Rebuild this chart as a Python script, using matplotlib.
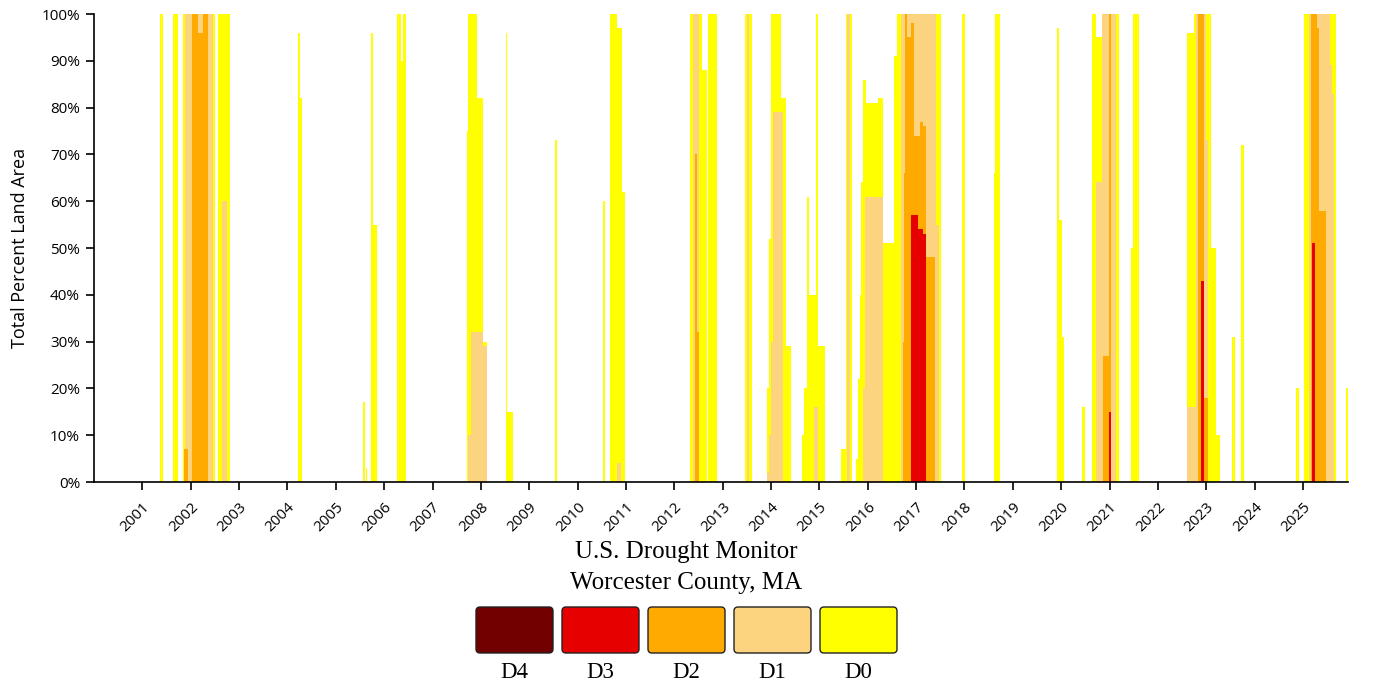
import matplotlib
matplotlib.use("Agg")
import matplotlib.pyplot as plt
from matplotlib.patches import FancyBboxPatch

# week the value starts (decimal year), cumulative percent area for D0..D4
# one row per episode; every episode closes with a 0 row
dates = [
    2000.00,
    2001.36, 2001.43,
    2001.64, 2001.74, 2001.83, 2001.86, 2001.89, 2001.95, 2002.03, 2002.16, 2002.26, 2002.36, 2002.47, 2002.50, 2002.57, 2002.65, 2002.76, 2002.82,
    2004.22, 2004.26, 2004.30,
    2005.56, 2005.60, 2005.63, 2005.65, 2005.73, 2005.77, 2005.85,
    2006.27, 2006.35, 2006.39, 2006.45,
    2007.71, 2007.74, 2007.80, 2007.92, 2008.04, 2008.12,
    2008.52, 2008.55, 2008.66,
    2009.53, 2009.57,
    2010.52, 2010.56, 2010.67, 2010.81, 2010.89, 2010.91, 2010.98,
    2012.32, 2012.38, 2012.42, 2012.46, 2012.50, 2012.52, 2012.58, 2012.67, 2012.70, 2012.88,
    2013.47, 2013.50, 2013.55, 2013.60,
    2013.91, 2013.95, 2013.99, 2014.03, 2014.20, 2014.24, 2014.30, 2014.42,
    2014.65, 2014.69, 2014.75, 2014.79, 2014.88, 2014.93, 2014.98, 2015.11,
    2015.45, 2015.54, 2015.58, 2015.64, 2015.68,
    2015.76, 2015.79, 2015.83, 2015.87, 2015.91, 2015.95, 2015.97, 2016.22, 2016.32, 2016.55, 2016.61, 2016.69, 2016.72, 2016.74, 2016.78, 2016.82, 2016.90, 2016.96, 2017.03, 2017.09, 2017.15, 2017.21, 2017.40, 2017.42, 2017.48, 2017.52,
    2017.94, 2018.02,
    2018.61, 2018.64, 2018.74,
    2019.92, 2019.95, 2020.02, 2020.06,
    2020.43, 2020.49,
    2020.64, 2020.72, 2020.85, 2020.87, 2020.98, 2021.03, 2021.14, 2021.20,
    2021.44, 2021.48, 2021.61,
    2022.60, 2022.75, 2022.79, 2022.83, 2022.89, 2022.95, 2022.99, 2023.03, 2023.10, 2023.20, 2023.28,
    2023.53, 2023.60, 2023.72, 2023.78,
    2024.85, 2024.92,
    2025.02, 2025.12, 2025.16, 2025.18, 2025.25, 2025.29, 2025.33, 2025.47, 2025.56, 2025.60, 2025.64, 2025.68, 2025.89, 2025.93,
]
d0 = [
    0,
    100, 0,
    100, 0, 100, 100, 100, 100, 100, 100, 100, 100, 100, 0, 100, 100, 100, 0,
    96, 82, 0,
    17, 0, 3, 0, 96, 55, 0,
    100, 90, 100, 0,
    75, 100, 100, 82, 30, 0,
    96, 15, 0,
    73, 0,
    60, 0, 100, 97, 97, 62, 0,
    100, 100, 100, 100, 100, 100, 88, 0, 100, 0,
    100, 100, 100, 0,
    20, 52, 100, 100, 82, 82, 29, 0,
    10, 20, 61, 40, 40, 100, 29, 0,
    7, 100, 100, 100, 0,
    5, 22, 40, 64, 86, 86, 81, 82, 51, 91, 100, 100, 100, 100, 100, 100, 100, 100, 100, 100, 100, 100, 100, 100, 100, 0,
    100, 0,
    66, 100, 0,
    97, 56, 31, 0,
    16, 0,
    100, 95, 100, 100, 100, 100, 100, 0,
    50, 100, 0,
    96, 100, 100, 100, 100, 100, 100, 100, 50, 10, 0,
    31, 0, 72, 0,
    20, 0,
    100, 100, 100, 100, 100, 100, 100, 100, 100, 100, 100, 0, 20, 0,
]
d1 = [
    0,
    0, 0,
    0, 0, 0, 7, 100, 100, 100, 100, 100, 100, 0, 0, 0, 60, 0, 0,
    0, 0, 0,
    0, 0, 0, 0, 0, 0, 0,
    0, 0, 0, 0,
    0, 10, 32, 32, 29, 0,
    0, 0, 0,
    0, 0,
    0, 0, 0, 4, 0, 0, 0,
    0, 100, 100, 100, 100, 0, 0, 0, 0, 0,
    0, 100, 0, 0,
    2, 10, 30, 79, 79, 0, 0, 0,
    0, 0, 0, 0, 16, 16, 0, 0,
    0, 0, 100, 0, 0,
    0, 0, 0, 0, 20, 61, 61, 61, 0, 0, 0, 100, 100, 100, 100, 100, 100, 100, 100, 100, 100, 100, 100, 55, 0, 0,
    0, 0,
    0, 0, 0,
    0, 0, 0, 0,
    0, 0,
    0, 64, 100, 100, 100, 100, 0, 0,
    0, 0, 0,
    16, 16, 100, 100, 100, 100, 73, 0, 0, 0, 0,
    0, 0, 0, 0,
    0, 0,
    0, 100, 100, 100, 100, 100, 100, 100, 89, 83, 0, 0, 0, 0,
]
d2 = [
    0,
    0, 0,
    0, 0, 0, 7, 7, 0, 100, 96, 100, 0, 0, 0, 0, 0, 0, 0,
    0, 0, 0,
    0, 0, 0, 0, 0, 0, 0,
    0, 0, 0, 0,
    0, 0, 0, 0, 0, 0,
    0, 0, 0,
    0, 0,
    0, 0, 0, 0, 0, 0, 0,
    0, 0, 70, 32, 0, 0, 0, 0, 0, 0,
    0, 0, 0, 0,
    0, 0, 0, 0, 0, 0, 0, 0,
    0, 0, 0, 0, 0, 0, 0, 0,
    0, 0, 0, 0, 0,
    0, 0, 0, 0, 0, 0, 0, 0, 0, 0, 0, 0, 30, 66, 100, 95, 98, 74, 74, 77, 76, 48, 0, 0, 0, 0,
    0, 0,
    0, 0, 0,
    0, 0, 0, 0,
    0, 0,
    0, 0, 0, 27, 100, 0, 0, 0,
    0, 0, 0,
    0, 0, 0, 100, 100, 18, 18, 0, 0, 0, 0,
    0, 0, 0, 0,
    0, 0,
    0, 0, 100, 100, 100, 97, 58, 0, 0, 0, 0, 0, 0, 0,
]
d3 = [
    0,
    0, 0,
    0, 0, 0, 0, 0, 0, 0, 0, 0, 0, 0, 0, 0, 0, 0, 0,
    0, 0, 0,
    0, 0, 0, 0, 0, 0, 0,
    0, 0, 0, 0,
    0, 0, 0, 0, 0, 0,
    0, 0, 0,
    0, 0,
    0, 0, 0, 0, 0, 0, 0,
    0, 0, 0, 0, 0, 0, 0, 0, 0, 0,
    0, 0, 0, 0,
    0, 0, 0, 0, 0, 0, 0, 0,
    0, 0, 0, 0, 0, 0, 0, 0,
    0, 0, 0, 0, 0,
    0, 0, 0, 0, 0, 0, 0, 0, 0, 0, 0, 0, 0, 0, 0, 0, 57, 57, 54, 54, 53, 0, 0, 0, 0, 0,
    0, 0,
    0, 0, 0,
    0, 0, 0, 0,
    0, 0,
    0, 0, 0, 0, 15, 0, 0, 0,
    0, 0, 0,
    0, 0, 0, 0, 43, 0, 0, 0, 0, 0, 0,
    0, 0, 0, 0,
    0, 0,
    0, 0, 0, 51, 0, 0, 0, 0, 0, 0, 0, 0, 0, 0,
]
d4 = [0] * len(dates)

levels = ["D4", "D3", "D2", "D1", "D0"]
colors = {"D4": "#730000", "D3": "#e60000", "D2": "#ffaa00", "D1": "#fcd37f", "D0": "#ffff00"}
years = list(range(2001, 2026))

fig = plt.figure(figsize=(13.8, 6.85), dpi=100)
ax = fig.add_axes([94 / 1380, 1 - 482 / 685, (1348 - 94) / 1380, (482 - 14) / 685])

for name, vals in [("D0", d0), ("D1", d1), ("D2", d2), ("D3", d3), ("D4", d4)]:
    ax.fill_between(dates, 0, vals, step="post", color=colors[name], linewidth=0)

ax.set_xlim(2000.0, 2025.93)
ax.set_ylim(0, 100)
ax.set_yticks(range(0, 101, 10))
ax.set_yticklabels([f"{v}%" for v in range(0, 101, 10)], family="Open Sans", fontsize=11)
ax.set_xticks(years)
ax.set_xticklabels([str(y) for y in years], rotation=45, ha="right",
                   rotation_mode="anchor", family="Open Sans", fontsize=11)
ax.tick_params(direction="out", length=6, width=1.2, color="black", pad=4)
ax.tick_params(axis="x", pad=7)
for s in ["top", "right"]:
    ax.spines[s].set_visible(False)
for s in ["left", "bottom"]:
    ax.spines[s].set_linewidth(1.2)
ax.set_ylabel("Total Percent Land Area", family="Open Sans", fontsize=13, labelpad=9)

# title and legend below the plot, in pixel units
lay = fig.add_axes([0, 0, 1, 1], facecolor="none")
lay.set_xlim(0, 1380)
lay.set_ylim(685, 0)
lay.axis("off")
lay.text(686, 552, "U.S. Drought Monitor", ha="center", va="center",
         family="Liberation Serif", fontsize=18)
lay.text(686, 583, "Worcester County, MA", ha="center", va="center",
         family="Liberation Serif", fontsize=18)
for i, name in enumerate(levels):
    x0 = 476 + i * 86
    lay.add_patch(FancyBboxPatch((x0, 607), 77, 46, boxstyle="round,pad=0,rounding_size=4",
                                 facecolor=colors[name], edgecolor="#222222", linewidth=1))
    lay.text(x0 + 38.5, 683, name, ha="center", va="bottom",
             family="Liberation Serif", fontsize=16.5)

fig.savefig("out.png", dpi=100)
